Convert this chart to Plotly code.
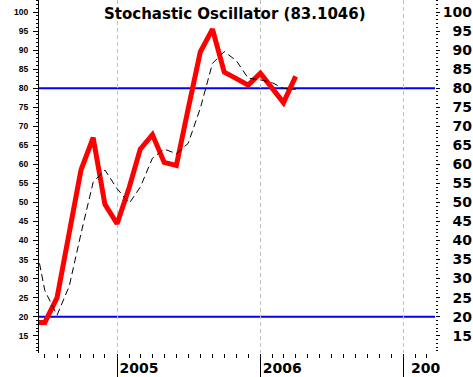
import plotly.graph_objects as go

# ---- data ----
months = ["2004-06-01", "2004-07-01", "2004-08-01", "2004-09-01", "2004-10-01",
          "2004-11-01", "2004-12-01", "2005-01-01", "2005-02-01", "2005-03-01",
          "2005-04-01", "2005-05-01", "2005-06-01", "2005-07-01", "2005-08-01",
          "2005-09-01", "2005-10-01", "2005-11-01", "2005-12-01", "2006-01-01",
          "2006-02-01", "2006-03-01", "2006-04-01"]
stoch_k = [18.5, 18.5, 25.0, 42.0, 58.5, 67.0, 49.5, 44.4, 54.0, 64.0, 67.8, 60.5,
           59.7, 74.5, 89.5, 95.5, 84.2, 82.5, 80.8, 83.9, 79.7, 76.2, 83.1]
stoch_d = [42.5, 26.8, 20.4, 28.0, 41.8, 55.3, 58.5, 53.6, 49.8, 54.0, 61.6, 64.0,
           62.8, 65.5, 74.7, 86.5, 89.6, 87.2, 82.6, 82.2, 81.4, 79.9, 79.7]
levels = [20, 80]
y_ticks = list(range(15, 101, 5))
year_ticks = ["2005-01-01", "2006-01-01", "2007-01-01"]
year_labels = ["2005", "2006", "200"]   # last label is cut off at the chart edge
title_text = "Stochastic Oscillator (83.1046)"

x_range = ["2004-06-16", "2007-03-22"]
y_range = [10.46, 103.15]

right_text = [("\u00a0\u00a0" + str(v)) if v < 100 else str(v) for v in y_ticks]

fig = go.Figure()
fig.add_trace(go.Scatter(x=months, y=stoch_k, mode="lines",
                         line=dict(color="#ff0000", width=5),
                         hoverinfo="skip", showlegend=False))
fig.add_trace(go.Scatter(x=months, y=stoch_d, mode="lines", yaxis="y2",
                         line=dict(color="#000000", width=1, dash="7px,4px"),
                         hoverinfo="skip", showlegend=False))

for lv in levels:
    fig.add_shape(type="line", xref="paper", x0=0, x1=1, yref="y", y0=lv, y1=lv,
                  line=dict(color="#0000ff", width=2), layer="between")

fig.add_annotation(text=title_text, xref="paper", yref="paper", x=0.496, y=1 - 14 / 353,
                   xanchor="center", yanchor="middle", showarrow=False,
                   font=dict(family="DejaVu Sans", size=15, color="black", weight="bold"))

fig.update_layout(
    width=473, height=377,
    margin=dict(l=39, r=38, t=0, b=24, autoexpand=False),
    paper_bgcolor="white", plot_bgcolor="white",
    showlegend=False,
    xaxis=dict(
        type="date", range=x_range,
        tickvals=year_ticks, ticktext=year_labels,
        ticks="outside", ticklen=24, tickwidth=1, tickcolor="black",
        ticklabelshift=22, ticklabelstandoff=-22,
        tickfont=dict(family="DejaVu Sans", size=14, color="black", weight="bold"),
        showgrid=True, gridcolor="#c0c0c0", griddash="4px,3px", gridwidth=1,
        showline=False, zeroline=False,
        minor=dict(dtick="M1", tick0="2004-01-01", ticks="outside", ticklen=4,
                   tickcolor="black", tickwidth=1, showgrid=False),
    ),
    yaxis=dict(
        range=y_range, side="left",
        tickvals=y_ticks, ticks="outside", ticklen=5, tickcolor="black",
        ticklabelstandoff=3,
        tickfont=dict(family="Liberation Sans", size=8.5, color="black", weight="bold"),
        showline=True, linecolor="black", linewidth=1,
        showgrid=False, zeroline=False,
        minor=dict(dtick=1, tick0=0, ticks="outside", ticklen=2, tickcolor="black",
                   showgrid=False),
    ),
    yaxis2=dict(
        range=y_range, overlaying="y", side="right", matches="y",
        tickvals=y_ticks, ticktext=right_text,
        ticks="outside", ticklen=4, tickcolor="black",
        tickfont=dict(family="DejaVu Sans", size=14, color="black", weight="bold"),
        showline=False, showgrid=False, zeroline=False,
        minor=dict(dtick=1, tick0=0, ticks="outside", ticklen=2, tickcolor="black",
                   showgrid=False),
    ),
)

fig.write_html("out.html", config={"displayModeBar": False},
               post_script="document.body.style.margin='0';")
